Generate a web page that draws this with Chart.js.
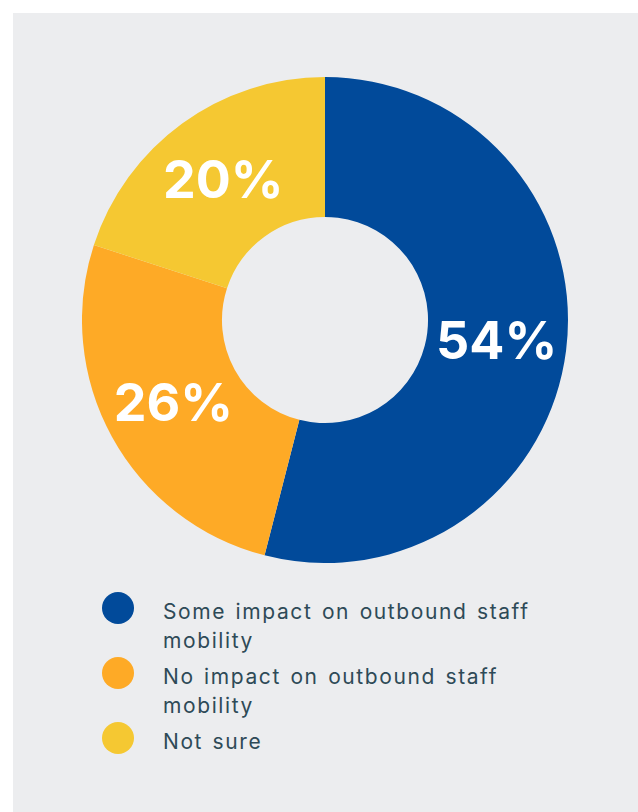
<html>
<head>
<meta charset="UTF-8">
<title>Outbound staff mobility</title>
<script src="https://cdn.jsdelivr.net/npm/chart.js"></script>
<style>
  body { margin: 0; background: #ffffff; width: 638px; height: 812px; overflow: hidden; font-family: Inter, "Noto Sans", sans-serif; }
  #panel { position: absolute; left: 13px; top: 13px; width: 625px; height: 799px; background: #ecedef; }
  #chartBox { position: absolute; left: 82px; top: 77px; width: 486px; height: 486px; }
  #legend { position: absolute; left: 102px; top: 597px; margin: 0; padding: 0; list-style: none; }
  #legend li { position: relative; padding-left: 61px; margin-bottom: 7px; font-size: 21px; line-height: 29px; color: #2e4a57; letter-spacing: 1.6px; word-spacing: 2px; white-space: nowrap; }
  #legend li span.dot { position: absolute; left: 0; top: -5px; width: 32px; height: 32px; border-radius: 50%; }
</style>
</head>
<body>
<div id="panel"></div>
<div id="chartBox"><canvas id="myChart"></canvas></div>
<ul id="legend"></ul>
<script>
  // datos
  const categorias = [
    ["Some impact on outbound staff", "mobility"],
    ["No impact on outbound staff", "mobility"],
    ["Not sure"]
  ];
  const valores = [54, 26, 20];
  const colores = ["#014a9a", "#feaa26", "#f5c832"];

  // plugin para escribir los porcentajes dentro de cada sector
  const etiquetas = {
    id: 'etiquetas',
    afterDatasetsDraw(chart) {
      const ctx = chart.ctx;
      const meta = chart.getDatasetMeta(0);
      ctx.save();
      ctx.fillStyle = '#ffffff';
      ctx.font = 'bold 52px Inter, "Noto Sans", sans-serif';
      ctx.textAlign = 'center';
      ctx.textBaseline = 'middle';
      meta.data.forEach((arc, i) => {
        const p = arc.getCenterPoint();
        ctx.fillText(valores[i] + '%', p.x, p.y + 2);
      });
      ctx.restore();
    }
  };

  const ctx = document.getElementById('myChart').getContext('2d');
  const myChart = new Chart(ctx, {
    type: 'doughnut',
    data: {
      labels: categorias.map(c => c.join(' ')),
      datasets: [{
        data: valores,
        backgroundColor: colores,
        borderWidth: 0
      }]
    },
    options: {
      responsive: true,
      maintainAspectRatio: false,
      animation: false,
      cutout: '42.4%',
      layout: { padding: 0 },
      plugins: {
        legend: { display: false },
        tooltip: { enabled: false }
      }
    },
    plugins: [etiquetas]
  });

  // leyenda en html
  const legend = document.getElementById('legend');
  categorias.forEach((c, i) => {
    const li = document.createElement('li');
    const dot = document.createElement('span');
    dot.className = 'dot';
    dot.style.background = colores[i];
    li.appendChild(dot);
    li.appendChild(document.createTextNode(c[0]));
    for (let k = 1; k < c.length; k++) {
      li.appendChild(document.createElement('br'));
      li.appendChild(document.createTextNode(c[k]));
    }
    legend.appendChild(li);
  });
</script>
</body>
</html>
